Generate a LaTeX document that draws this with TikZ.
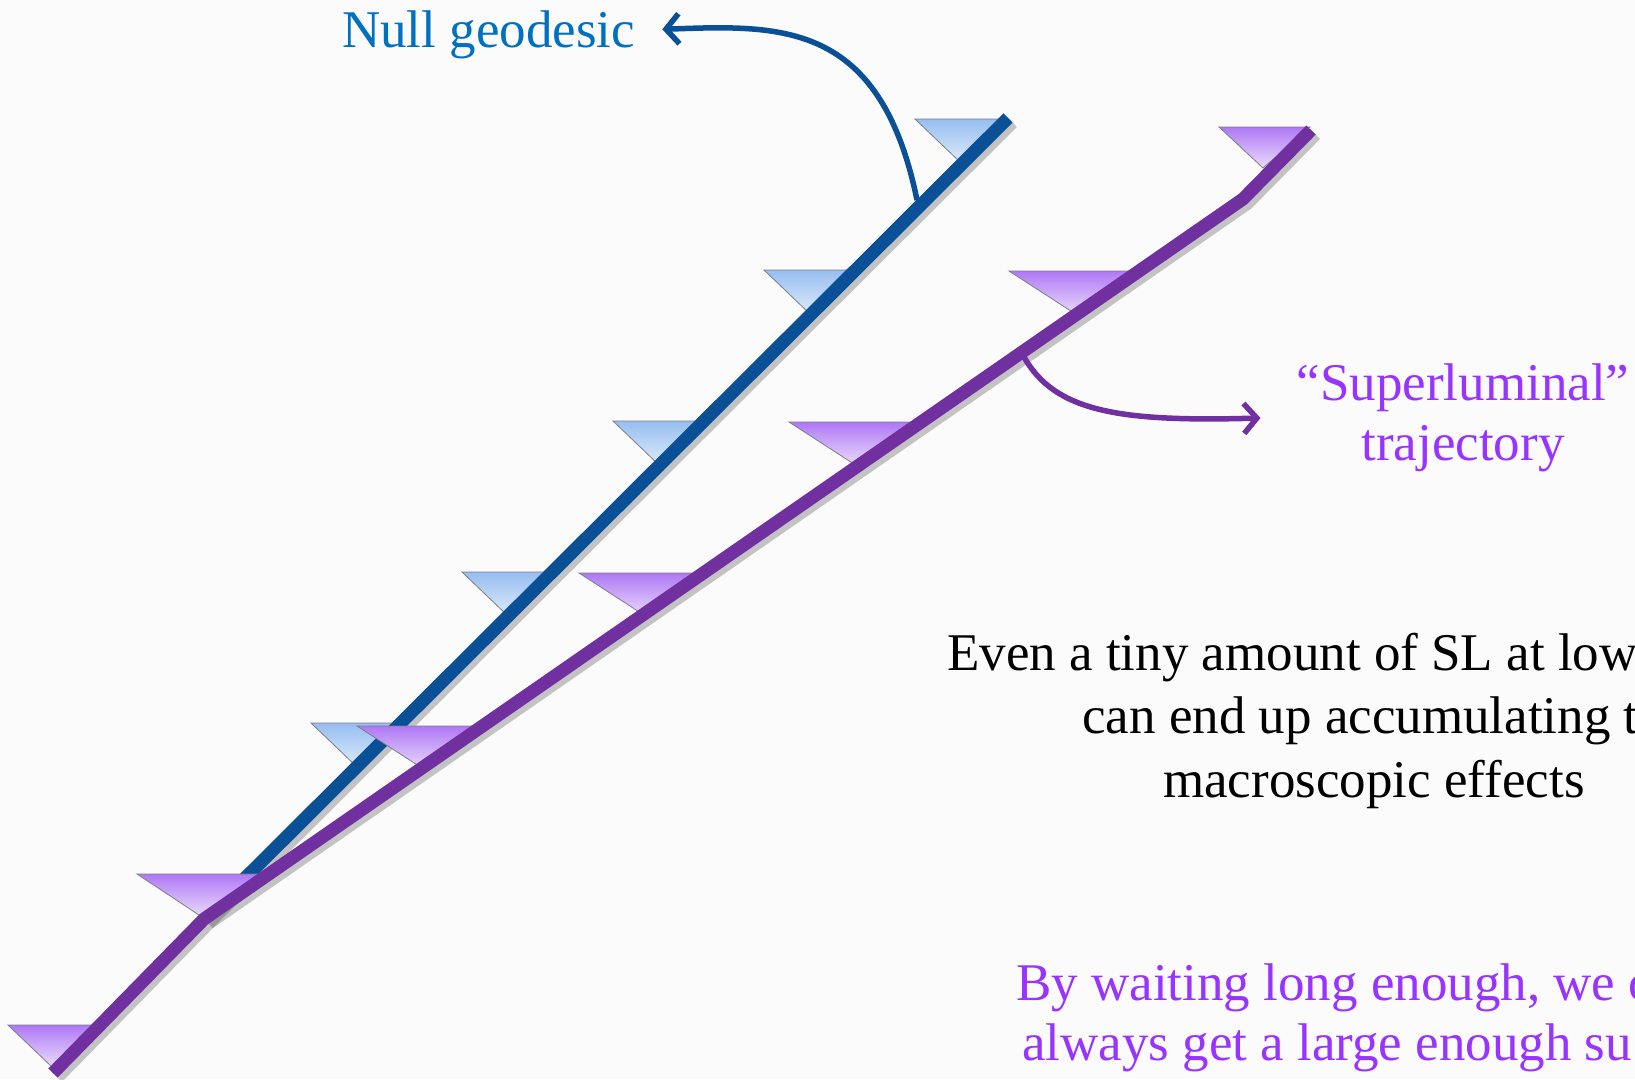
\documentclass[tikz,border=0pt]{standalone}
\usepackage{fontspec}
\setmainfont{Liberation Serif}
\usetikzlibrary{arrows.meta}

\definecolor{paper}{RGB}{251,251,251}
\definecolor{nullblue}{RGB}{10,80,150}
\definecolor{nulltext}{RGB}{0,112,192}
\definecolor{slpurple}{RGB}{112,48,160}
\definecolor{sltext}{RGB}{153,51,255}
\definecolor{bluetop}{RGB}{150,190,240}
\definecolor{bluebot}{RGB}{222,235,252}
\definecolor{purptop}{RGB}{175,120,245}
\definecolor{purpbot}{RGB}{234,220,252}
\definecolor{conegray}{RGB}{125,125,140}

\begin{document}
\begin{tikzpicture}[x=1pt,y=-1pt]
  \tikzset{
    nullline/.style={draw=nullblue, line width=13pt, line join=miter},
    slline/.style={draw=slpurple, line width=13pt, line join=miter},
    lineshadow/.style={draw=black, opacity=0.22, line width=14pt, transform canvas={shift={(4pt,-4pt)}}},
    nullcone/.style={draw=conegray, line width=0.8pt, top color=bluetop, bottom color=bluebot},
    slcone/.style={draw=conegray, line width=0.8pt, top color=purptop, bottom color=purpbot},
    pointer/.style={line width=5.5pt, -{Straight Barb[length=13pt,width=30pt]}},
    bigtext/.style={inner sep=0pt, font=\fontsize{53}{60}\selectfont}
  }
  \fill[paper] (0,0) rectangle (1635,1079);
  \useasboundingbox (0,0) rectangle (1635,1079);
  \clip (0,0) rectangle (1635,1079);

  \coordinate (start) at (204,919);
  \coordinate (nulltop) at (1008,118);
  \coordinate (slbot) at (53,1073);
  \coordinate (slkink) at (1243,199);
  \coordinate (sltop) at (1311,130);

  \draw[lineshadow] (start) -- (nulltop);
  \foreach \y in {163,314,465,616,767}
    \draw[nullcone] (1124-\y,\y) -- ++(-46,-44) -- ++(92,0) -- cycle;
  \draw[nullline] (start) -- (nulltop);

  \draw[lineshadow] (slbot) -- (start) -- (slkink) -- (sltop);
  \foreach \x/\y/\l/\r/\h in {52/1067/44/42/42, 202/917/65/63/43, 425/770/68/66/44,
      647/617/68/66/44, 857/466/68/66/44, 1077/315/68/66/44, 1263/168/44/47/41}
    \draw[slcone] (\x,\y) -- ++(-\l,-\h) -- ++(\l+\r,0) -- cycle;
  \draw[slline] (slbot) -- (start) -- (slkink) -- (sltop);

  \node[bigtext, text=nulltext, anchor=base west] (nulllabel) at (342,47) {Null geodesic};
  \node[bigtext, text=sltext, align=center] (sllabel) at (1463,418) {“Superluminal”\\trajectory};

  \coordinate (nullpt) at (917,200);
  \coordinate (slpt) at (1024,357);
  \draw[pointer, draw=nullblue] (nullpt) .. controls (880,20) and (780,25) .. ([xshift=27pt,yshift=5pt]nulllabel.east);
  \draw[pointer, draw=slpurple] (slpt) .. controls (1055,412) and (1120,422) .. ([xshift=-36pt]sllabel.west);

  \node[bigtext, anchor=base west] (even1) at (947,670) {Even a tiny amount of SL at low};
  \node[bigtext, anchor=base west] (even2) at (1082,733) {can end up accumulating t};
  \node[bigtext, anchor=base west] (even3) at (1163,797) {macroscopic effects};

  \node[bigtext, text=sltext, anchor=base west] (wait1) at (1016,1000) {By waiting long enough, we c};
  \node[bigtext, text=sltext, anchor=base west] (wait2) at (1022,1060) {always get a large enough su};
\end{tikzpicture}
\end{document}
